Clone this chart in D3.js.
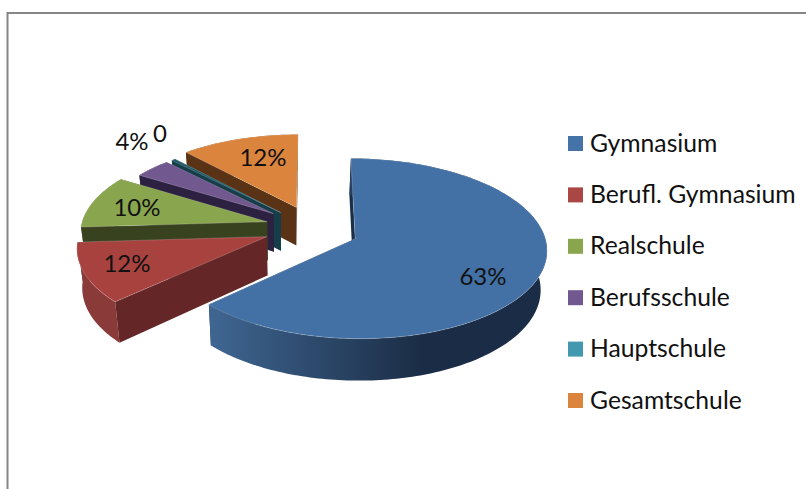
<!DOCTYPE html>
<html><head><meta charset="utf-8">
<style>html,body{margin:0;padding:0;background:#fff;overflow:hidden}svg{display:block}text{font-family:Lato,"Open Sans",sans-serif;fill:#111}</style>
<script src="https://cdn.jsdelivr.net/npm/d3@7/dist/d3.min.js"></script>
</head><body><svg id="c" width="806" height="489"></svg>
<script>
const categories=["Gymnasium","Berufl. Gymnasium","Realschule","Berufsschule","Hauptschule","Gesamtschule"];
const values=[64,11.2,10,4,0.4,12];
const labels=["63%","12%","10%","4%","0","12%"];
const topColors=["#4371a6","#a8423f","#89a54e","#71588f","#1d5866","#db843d"];
const legendColors=["#4572a7","#aa4643","#89a54e","#71588f","#4198af","#db843d"];
const wallColors=["#1c2f48","#642626","#39421f","#2c2140","#163e4a","#5a3316"];
const outerColors=["url(#blueWall)","#8a3a38","#5a6b32","#46365c","#1d5866","#8a5226"];
const labelPos=[[483,277],[127,264],[137,208],[132,142],[160,134],[263,158]];
const sliceScale=[0.99,0.98,0.98,0.9,0.92,0.96];
const sliceShift=[[3,0],[1,-2],[3,-3],[0,-3],[3,-2],[4,-3]];

const svg=d3.select("#c");
const defs=svg.append("defs");
const g=defs.append("linearGradient").attr("id","blueWall").attr("gradientUnits","userSpaceOnUse")
  .attr("x1",210).attr("x2",420).attr("y1",0).attr("y2",0);
g.append("stop").attr("offset",0).attr("stop-color","#3f6692");
g.append("stop").attr("offset",1).attr("stop-color","#1b2d46");

svg.append("path").attr("d","M7.5,489V13H806").attr("fill","none").attr("stroke","#868686").attr("stroke-width",2);

const Cx=309,Cy=230,R=190,T=88,k=0.11,explode=0.245;
const pie=d3.pie().sort(null).value(d=>d);
const arcs=pie(values);
const down=p=>[290+(p[0]-290)*0.975,p[1]+38+0.03*(p[1]-207)];
const line=d3.line();
const drawn=arcs.map((a,i)=>{
  const top3=(X,Y)=>{const s=1+k*Y;return [Cx+R*X/s+sliceShift[i][0],Cy-T*Y/s+sliceShift[i][1]];};
  const mid=(a.startAngle+a.endAngle)/2,ox=explode*Math.sin(mid),oy=explode*Math.cos(mid),r=sliceScale[i];
  const n=Math.max(2,Math.ceil((a.endAngle-a.startAngle)/0.02));
  const rim=d3.range(n+1).map(j=>{const t=a.startAngle+(a.endAngle-a.startAngle)*j/n;return top3(ox+r*Math.sin(t),oy+r*Math.cos(t));});
  return {i,a,apex:top3(ox,oy),rim};
});
const layers=svg.append("g");
[5,4,3,2,1,0].forEach(i=>{
  const d=drawn[i],apex=d.apex,rim=d.rim,g=layers.append("g");
  const sW=[apex,rim[0],down(rim[0]),down(apex)],eW=[apex,rim[rim.length-1],down(rim[rim.length-1]),down(apex)];
  const sFront=Math.sin(d.a.startAngle)<0,eFront=Math.sin(d.a.endAngle)>0;
  const wall=q=>g.append("path").attr("d",line(q)+"Z").attr("fill",wallColors[i]);
  if(!sFront)wall(sW);
  if(!eFront)wall(eW);
  g.append("path").attr("d",line(rim.concat(rim.map(down).reverse()))+"Z").attr("fill",outerColors[i]);
  if(sFront)wall(sW);
  if(eFront)wall(eW);
  g.append("path").attr("d",line([apex].concat(rim))+"Z").attr("fill",topColors[i]).attr("stroke","#fff").attr("stroke-opacity",0.2).attr("stroke-width",1);
});
labels.forEach((t,i)=>svg.append("text").attr("x",labelPos[i][0]).attr("y",labelPos[i][1]+8).attr("text-anchor","middle").attr("font-size",24).text(t));

const yLeg=d3.scalePoint().domain(categories).range([143.5,400.5]);
const leg=svg.append("g").selectAll("g").data(categories).join("g").attr("transform",d=>`translate(0,${yLeg(d)})`);
leg.append("rect").attr("x",568).attr("y",-7.5).attr("width",15).attr("height",15).attr("fill",(d,i)=>legendColors[i]);
leg.append("text").attr("x",590).attr("y",8).attr("font-size",24.7).text(d=>d);
</script></body></html>
